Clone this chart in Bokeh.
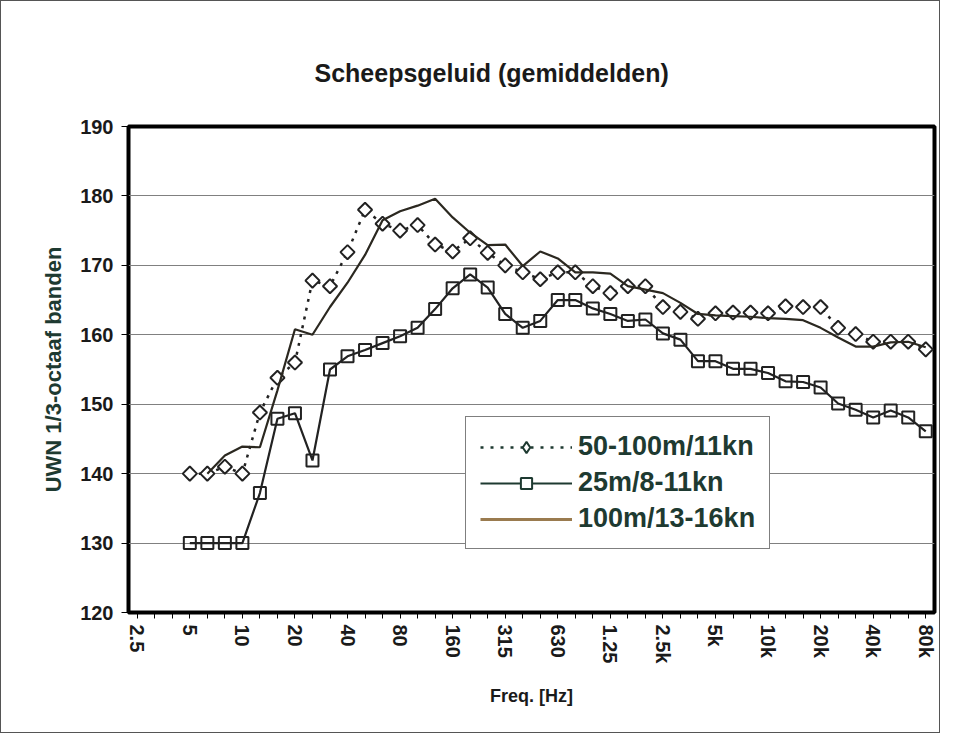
from bokeh.plotting import figure
from bokeh.models import Range1d, FixedTicker, Legend, LegendItem
from bokeh.embed import file_html
from bokeh.resources import INLINE

# 1/3-octave band centre frequencies (index = category position)
bands = ["2.5", "3.15", "4", "5", "6.3", "8", "10", "12.5", "16", "20", "25", "31.5",
         "40", "50", "63", "80", "100", "125", "160", "200", "250", "315", "400", "500",
         "630", "800", "1k", "1.25k", "1.6k", "2k", "2.5k", "3.15k", "4k", "5k", "6.3k",
         "8k", "10k", "12.5k", "16k", "20k", "25k", "31.5k", "40k", "50k", "63k", "80k"]
shown_ticks = {0: "2.5", 3: "5", 6: "10", 9: "20", 12: "40", 15: "80", 18: "160",
               21: "315", 24: "630", 27: "1.25", 30: "2.5k", 33: "5k", 36: "10k",
               39: "20k", 42: "40k", 45: "80k"}
y_ticks = [120, 130, 140, 150, 160, 170, 180, 190]

# 50-100m/11kn (starts at band "5")
diamond_start = 3
diamond_vals = [140, 140, 141, 140, 148.8, 153.8, 156, 167.8, 167, 171.9, 178, 176,
                175, 175.8, 173, 172, 173.9, 171.8, 170, 169, 168, 169, 169, 167,
                166, 167, 167, 164, 163.3, 162.3, 163.1, 163.2, 163.2, 163.1, 164.1,
                164, 164, 161, 160.1, 159, 159, 159, 157.9]

# 25m/8-11kn (starts at band "5")
square_start = 3
square_vals = [130, 130, 130, 130, 137.2, 147.9, 148.7, 141.9, 155, 156.9, 157.8, 158.8,
               159.8, 161, 163.7, 166.7, 168.7, 166.8, 163, 161, 162, 165, 165, 163.8,
               163, 162, 162.2, 160.2, 159.3, 156.2, 156.2, 155.1, 155.1, 154.5, 153.3,
               153.2, 152.4, 150.1, 149.2, 148.1, 149.1, 148.1, 146.1]

# 100m/13-16kn (starts at band "6.3")
solid_start = 4
solid_vals = [140, 142.6, 143.9, 143.8, 152, 160.8, 160, 164, 167.5, 171.5, 176.5,
              177.8, 178.6, 179.6, 176.9, 174.7, 172.9, 173, 169.9, 172, 171, 169,
              169, 168.8, 167, 166.5, 166, 164.6, 163, 162.8, 162.7, 162.6, 162.4,
              162.3, 162.1, 161, 159.6, 158.3, 158.3, 158.9, 159, 158.2]

series_names = ["50-100m/11kn", "25m/8-11kn", "100m/13-16kn"]
chart_title = "Scheepsgeluid (gemiddelden)"

LINE = "#222222"
TXT = "#1e3a31"
BASE_FONT = "Liberation Sans"
NAN = float("nan")

p = figure(width=940, height=733, output_backend="svg", toolbar_location=None,
           x_range=Range1d(-0.5, 45.5), y_range=Range1d(120, 190),
           min_border_left=127, min_border_right=7, min_border_top=125,
           min_border_bottom=122, background_fill_color="white",
           border_fill_color="white")
p.styles = {"border": "1px solid #555555"}

p.title.text = chart_title
p.title.align = "left"
p.title.offset = 186
p.title.standoff = 80
p.title.text_font = BASE_FONT
p.title.text_font_style = "bold"
p.title.text_font_size = "25px"
p.title.text_color = "#1a1a1a"

p.outline_line_color = "black"
p.outline_line_width = 4

# axes
p.xaxis.ticker = FixedTicker(ticks=list(range(len(bands))))
p.xaxis.major_label_overrides = {i: shown_ticks.get(i, "") for i in range(len(bands))}
p.xaxis.major_label_orientation = "vertical"
p.xaxis.major_tick_out = 6
p.xaxis.major_tick_in = 0
p.xaxis.minor_tick_line_color = None
p.xaxis.axis_line_color = None
p.xaxis.major_label_text_font = BASE_FONT
p.xaxis.major_label_text_font_style = "bold"
p.xaxis.major_label_text_font_size = "20px"
p.xaxis.major_label_text_color = "#1a1a1a"
p.xaxis.major_label_standoff = 6
p.xaxis.axis_label = "Freq. [Hz]"
p.xaxis.axis_label_text_font = BASE_FONT
p.xaxis.axis_label_text_font_style = "bold"
p.xaxis.axis_label_text_font_size = "18px"
p.xaxis.axis_label_text_color = "#1a1a1a"
p.xaxis.axis_label_standoff = 20

p.yaxis.ticker = FixedTicker(ticks=y_ticks)
p.yaxis.major_tick_out = 7
p.yaxis.major_tick_in = 0
p.yaxis.minor_tick_line_color = None
p.yaxis.axis_line_color = None
p.yaxis.major_label_text_font = BASE_FONT
p.yaxis.major_label_text_font_style = "bold"
p.yaxis.major_label_text_font_size = "20px"
p.yaxis.major_label_text_color = "#1a1a1a"
p.yaxis.major_label_standoff = 8
p.yaxis.axis_label = "UWN 1/3-octaaf banden"
p.yaxis.axis_label_text_font = BASE_FONT
p.yaxis.axis_label_text_font_style = "bold"
p.yaxis.axis_label_text_font_size = "22px"
p.yaxis.axis_label_text_color = TXT
p.yaxis.axis_label_standoff = 11

p.xgrid.grid_line_color = None
p.ygrid.ticker = FixedTicker(ticks=y_ticks)
p.ygrid.grid_line_color = "#808080"
p.ygrid.grid_line_width = 1

# data series
dx = list(range(diamond_start, diamond_start + len(diamond_vals)))
sx = list(range(square_start, square_start + len(square_vals)))
lx = list(range(solid_start, solid_start + len(solid_vals)))

p.line(dx, diamond_vals, line_color=LINE, line_width=2.5, line_dash="3 6")
p.scatter(dx, diamond_vals, marker="square", angle=0.7854, size=10,
          line_color=LINE, line_width=2, fill_color="white")

p.line(sx, square_vals, line_color=LINE, line_width=2.2)
p.scatter(sx, square_vals, marker="square", size=12, line_color=LINE,
          line_width=2, fill_alpha=0)

p.line(lx, solid_vals, line_color="#2b2820", line_width=2.2)

# legend samples (NaN renderers used only for the legend glyphs)
g1l = p.line([0, 1], [NAN, NAN], line_color=TXT, line_width=2.5, line_dash="3 7")
g1m = p.scatter([0], [NAN], marker="diamond", size=19, line_color=TXT,
                line_width=2, fill_color="white")
g2l = p.line([0, 1], [NAN, NAN], line_color=TXT, line_width=2.2)
g2m = p.scatter([0], [NAN], marker="square", size=12, line_color=TXT, line_width=2,
                fill_color="white")
g3l = p.line([0, 1], [NAN, NAN], line_color="#9a7b4f", line_width=3)

legend = Legend(items=[LegendItem(label=series_names[0], renderers=[g1l, g1m]),
                       LegendItem(label=series_names[1], renderers=[g2l, g2m]),
                       LegendItem(label=series_names[2], renderers=[g3l])],
                location=(337, 63))
legend.label_text_font = BASE_FONT
legend.label_text_font_style = "bold"
legend.label_text_font_size = "27px"
legend.label_text_color = TXT
legend.border_line_color = "black"
legend.border_line_width = 1
legend.background_fill_color = "white"
legend.background_fill_alpha = 1
legend.glyph_width = 92
legend.glyph_height = 28
legend.label_height = 28
legend.spacing = 5
legend.padding = 14
legend.margin = 0
legend.label_standoff = 6
p.add_layout(legend)

open("out.html", "w").write(file_html(p, INLINE))
